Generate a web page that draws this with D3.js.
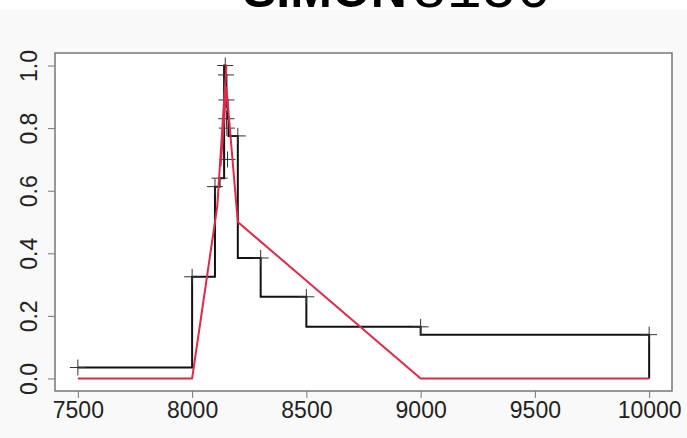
<!DOCTYPE html>
<html>
<head>
<meta charset="utf-8">
<script src="https://cdn.jsdelivr.net/npm/d3@7"></script>
<style>
  body { margin: 0; background: #f9f9f9; }
  svg { display: block; }
  .tick text { font-family: "Liberation Sans", Arial, sans-serif; font-size: 23px; fill: #222; }
</style>
</head>
<body>
<div id="chart"></div>
<script>
// chart size
const WIDTH = 687;
const HEIGHT = 438;
const BOX = { left: 55, right: 672, top: 53, bottom: 391 };

// title (only the lower part is visible in the picture)
const titleBold = "SIMON";
const titleMono = "8150";

// black step curve
const stepX = [7500, 8000, 8100, 8120, 8140, 8145, 8150, 8155, 8160, 8200, 8300, 8500, 9000, 10000, 10000];
const stepY = [0.035, 0.325, 0.613, 0.64, 1.0, 0.97, 0.89, 0.83, 0.775, 0.385, 0.261, 0.165, 0.14, 0.14, 0];

// "+" markers
const markX = [7500, 8000, 8100, 8120, 8145, 8148, 8150, 8150, 8152, 8155, 8200, 8300, 8500, 9000, 10000];
const markY = [0.035, 0.325, 0.613, 0.64, 1.0, 0.97, 0.89, 0.83, 0.80, 0.70, 0.775, 0.385, 0.261, 0.165, 0.14];

// red line
const redX = [7500, 8000, 8110, 8150, 8125, 8150, 8200, 9000, 10000];
const redY = [0, 0, 0.55, 1.0, 0.68, 0.93, 0.5, 0, 0];

// ticks
const xTicks = [7500, 8000, 8500, 9000, 9500, 10000];
const yTicks = [0, 0.2, 0.4, 0.6, 0.8, 1.0];

const svg = d3.select("#chart").append("svg")
    .attr("width", WIDTH)
    .attr("height", HEIGHT);

// white strip at the top, behind the title
svg.append("rect")
    .attr("x", 0).attr("y", 0)
    .attr("width", WIDTH).attr("height", 10)
    .attr("fill", "#ffffff");

const title = svg.append("text")
    .attr("x", 243)
    .attr("y", 7)
    .attr("fill", "#000");
title.append("tspan")
    .attr("font-family", "Liberation Sans, Arial, sans-serif")
    .attr("font-weight", "bold")
    .attr("font-size", "50px")
    .text(titleBold);
title.append("tspan")
    .attr("x", 412)
    .attr("font-family", "Liberation Mono, monospace")
    .attr("font-size", "58px")
    .text(titleMono);

// plot region
svg.append("rect")
    .attr("x", BOX.left).attr("y", BOX.top)
    .attr("width", BOX.right - BOX.left)
    .attr("height", BOX.bottom - BOX.top)
    .attr("fill", "#ffffff");

// R style: 4% padding on each side
const x = d3.scaleLinear()
    .domain([7400, 10100])
    .range([BOX.left, BOX.right]);

const y = d3.scaleLinear()
    .domain([-0.04, 1.04])
    .range([BOX.bottom, BOX.top]);

const xAxis = svg.append("g")
    .attr("transform", `translate(0, ${BOX.bottom})`)
    .call(d3.axisBottom(x).tickValues(xTicks).tickFormat(d3.format("d")).tickSize(7).tickPadding(4));

const yAxis = svg.append("g")
    .attr("transform", `translate(${BOX.left}, 0)`)
    .call(d3.axisLeft(y).tickValues(yTicks).tickFormat(d3.format(".1f")).tickSize(7));

xAxis.select(".domain").remove();
yAxis.select(".domain").remove();
xAxis.selectAll(".tick line").attr("stroke", "#777");
yAxis.selectAll(".tick line").attr("stroke", "#777");

// rotated y labels, as R draws them
yAxis.selectAll(".tick text")
    .attr("text-anchor", "middle")
    .attr("transform", "rotate(-90)")
    .attr("x", 0)
    .attr("y", -18)
    .attr("dy", "0");

xAxis.selectAll(".tick text")
    .attr("y", 27)
    .attr("dy", "0");

// box
svg.append("rect")
    .attr("x", BOX.left).attr("y", BOX.top)
    .attr("width", BOX.right - BOX.left)
    .attr("height", BOX.bottom - BOX.top)
    .attr("fill", "none")
    .attr("stroke", "#777")
    .attr("stroke-width", 1.5);

const stepLine = d3.line()
    .x(i => x(stepX[i]))
    .y(i => y(stepY[i]))
    .curve(d3.curveStepAfter);

svg.append("path")
    .attr("d", stepLine(d3.range(stepX.length)))
    .attr("fill", "none")
    .attr("stroke", "#111")
    .attr("stroke-width", 2);

// "+" markers
const marks = svg.append("g")
    .attr("stroke", "#333")
    .attr("stroke-width", 1);
marks.selectAll(".h")
    .data(d3.range(markX.length))
    .enter()
    .append("line")
    .attr("x1", i => x(markX[i]) - 8)
    .attr("x2", i => x(markX[i]) + 8)
    .attr("y1", i => y(markY[i]))
    .attr("y2", i => y(markY[i]));
marks.selectAll(".v")
    .data(d3.range(markX.length))
    .enter()
    .append("line")
    .attr("x1", i => x(markX[i]))
    .attr("x2", i => x(markX[i]))
    .attr("y1", i => y(markY[i]) - 8)
    .attr("y2", i => y(markY[i]) + 8);

const redLine = d3.line()
    .x(i => x(redX[i]))
    .y(i => y(redY[i]));

svg.append("path")
    .attr("d", redLine(d3.range(redX.length)))
    .attr("fill", "none")
    .attr("stroke", "#dc2a4a")
    .attr("stroke-width", 2)
    .attr("stroke-linejoin", "round");
</script>
</body>
</html>
